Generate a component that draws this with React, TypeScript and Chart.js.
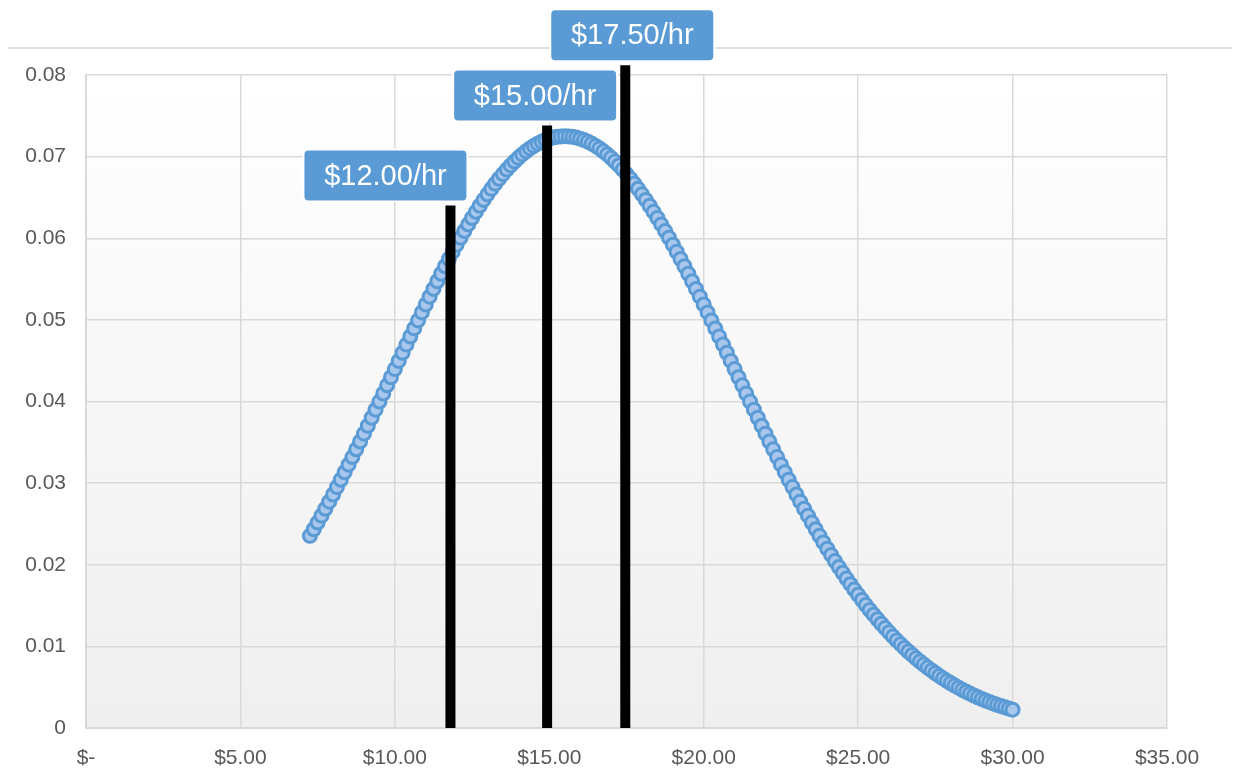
import React, { useEffect, useRef } from "react";
import { Chart, registerables } from "chart.js";

Chart.register(...registerables);

// Hourly wage (x) and density (y)
const wageX: number[] = [
  7.25, 7.375, 7.5, 7.625, 7.75, 7.875, 8.0, 8.125, 8.25, 8.375, 8.5, 8.625, 8.75, 8.875,
  9.0, 9.125, 9.25, 9.375, 9.5, 9.625, 9.75, 9.875, 10.0, 10.125, 10.25, 10.375, 10.5,
  10.625, 10.75, 10.875, 11.0, 11.125, 11.25, 11.375, 11.5, 11.625, 11.75, 11.875, 12.0,
  12.125, 12.25, 12.375, 12.5, 12.625, 12.75, 12.875, 13.0, 13.125, 13.25, 13.375, 13.5,
  13.625, 13.75, 13.875, 14.0, 14.125, 14.25, 14.375, 14.5, 14.625, 14.75, 14.875, 15.0,
  15.125, 15.25, 15.375, 15.5, 15.625, 15.75, 15.875, 16.0, 16.125, 16.25, 16.375, 16.5,
  16.625, 16.75, 16.875, 17.0, 17.125, 17.25, 17.375, 17.5, 17.625, 17.75, 17.875, 18.0,
  18.125, 18.25, 18.375, 18.5, 18.625, 18.75, 18.875, 19.0, 19.125, 19.25, 19.375, 19.5,
  19.625, 19.75, 19.875, 20.0, 20.125, 20.25, 20.375, 20.5, 20.625, 20.75, 20.875, 21.0,
  21.125, 21.25, 21.375, 21.5, 21.625, 21.75, 21.875, 22.0, 22.125, 22.25, 22.375, 22.5,
  22.625, 22.75, 22.875, 23.0, 23.125, 23.25, 23.375, 23.5, 23.625, 23.75, 23.875, 24.0,
  24.125, 24.25, 24.375, 24.5, 24.625, 24.75, 24.875, 25.0, 25.125, 25.25, 25.375, 25.5,
  25.625, 25.75, 25.875, 26.0, 26.125, 26.25, 26.375, 26.5, 26.625, 26.75, 26.875, 27.0,
  27.125, 27.25, 27.375, 27.5, 27.625, 27.75, 27.875, 28.0, 28.125, 28.25, 28.375, 28.5,
  28.625, 28.75, 28.875, 29.0, 29.125, 29.25, 29.375, 29.5, 29.625, 29.75, 29.875, 30.0,
];
const densityY: number[] = [
  0.02354, 0.02435, 0.02517, 0.02601, 0.02686, 0.02773, 0.02861, 0.02951, 0.03041,
  0.03133, 0.03226, 0.03319, 0.03414, 0.0351, 0.03606, 0.03703, 0.03801, 0.039, 0.03999,
  0.04098, 0.04198, 0.04297, 0.04397, 0.04497, 0.04597, 0.04697, 0.04796, 0.04895,
  0.04993, 0.05091, 0.05188, 0.05284, 0.05379, 0.05473, 0.05565, 0.05657, 0.05746,
  0.05835, 0.05921, 0.06006, 0.06089, 0.06169, 0.06248, 0.06324, 0.06398, 0.0647,
  0.06538, 0.06605, 0.06668, 0.06729, 0.06786, 0.06841, 0.06892, 0.0694, 0.06985,
  0.07027, 0.07065, 0.071, 0.07131, 0.07159, 0.07183, 0.07203, 0.0722, 0.07233, 0.07243,
  0.07248, 0.0725, 0.07248, 0.07243, 0.07233, 0.0722, 0.07203, 0.07183, 0.07159, 0.07131,
  0.071, 0.07065, 0.07027, 0.06985, 0.0694, 0.06892, 0.06841, 0.06786, 0.06729, 0.06668,
  0.06605, 0.06538, 0.0647, 0.06398, 0.06324, 0.06248, 0.06169, 0.06089, 0.06006,
  0.05921, 0.05835, 0.05746, 0.05657, 0.05565, 0.05473, 0.05379, 0.05284, 0.05188,
  0.05091, 0.04993, 0.04895, 0.04796, 0.04697, 0.04597, 0.04497, 0.04397, 0.04297,
  0.04198, 0.04098, 0.03999, 0.039, 0.03801, 0.03703, 0.03606, 0.0351, 0.03414, 0.03319,
  0.03226, 0.03133, 0.03041, 0.02951, 0.02861, 0.02773, 0.02686, 0.02601, 0.02517,
  0.02435, 0.02354, 0.02274, 0.02196, 0.0212, 0.02045, 0.01972, 0.01901, 0.01831,
  0.01762, 0.01696, 0.01631, 0.01568, 0.01506, 0.01446, 0.01388, 0.01332, 0.01277,
  0.01224, 0.01172, 0.01122, 0.01073, 0.01027, 0.00981, 0.00937, 0.00895, 0.00854,
  0.00815, 0.00777, 0.0074, 0.00705, 0.00671, 0.00638, 0.00607, 0.00577, 0.00548, 0.0052,
  0.00494, 0.00468, 0.00444, 0.00421, 0.00398, 0.00377, 0.00356, 0.00337, 0.00319,
  0.00301, 0.00284, 0.00268, 0.00253, 0.00238, 0.00224,
];

// Marker lines: wage position, top of line, and label text
const markerWage: number[] = [11.8, 14.93, 17.46];
const markerTop: number[] = [0.064, 0.0738, 0.0812];
const markerLabels: string[] = ["$12.00/hr", "$15.00/hr", "$17.50/hr"];
// label box center offsets from line (px) – styling only
const labelDx: number[] = [-65, -12, 7];

const BLUE = "#5B9BD5";
const GRID = "#d9d9d9";
const TEXT = "#595959";
const FONT = '"Liberation Sans", Arial, sans-serif';

const decorPlugin = {
  id: "decor",
  beforeDraw(chart: any) {
    const { ctx, chartArea } = chart;
    ctx.save();
    const g = ctx.createLinearGradient(0, chartArea.top, 0, chartArea.bottom);
    g.addColorStop(0, "#ffffff");
    g.addColorStop(1, "#efefef");
    ctx.fillStyle = g;
    ctx.fillRect(chartArea.left, chartArea.top, chartArea.right - chartArea.left, chartArea.bottom - chartArea.top);
    // top rule
    ctx.strokeStyle = "#d4d4d4";
    ctx.lineWidth = 1.5;
    ctx.beginPath();
    ctx.moveTo(8, 48);
    ctx.lineTo(1232, 48);
    ctx.stroke();
    ctx.restore();
  },
  afterDraw(chart: any) {
    const { ctx } = chart;
    const xs = chart.scales.x;
    const ys = chart.scales.y;
    ctx.save();
    for (let i = 0; i < markerWage.length; i++) {
      const px = xs.getPixelForValue(markerWage[i]);
      const py = ys.getPixelForValue(markerTop[i]);
      const w = 164;
      const h = 52;
      const cx = px + labelDx[i];
      const bottom = py - 4;
      const left = cx - w / 2;
      const top = bottom - h;
      ctx.beginPath();
      if (ctx.roundRect) ctx.roundRect(left, top, w, h, 5);
      else ctx.rect(left, top, w, h);
      ctx.fillStyle = BLUE;
      ctx.fill();
      ctx.lineWidth = 2;
      ctx.strokeStyle = "#ffffff";
      ctx.stroke();
      ctx.fillStyle = "#ffffff";
      ctx.font = "29px " + FONT;
      ctx.textAlign = "center";
      ctx.textBaseline = "middle";
      ctx.fillText(markerLabels[i], cx, top + h / 2 + 1);
    }
    ctx.restore();
  },
};

export default function App() {
  const ref = useRef<HTMLCanvasElement | null>(null);

  useEffect(() => {
    if (!ref.current) return;
    const curve = wageX.map((x, i) => ({ x, y: densityY[i] }));
    const lineSets = markerWage.map((w, i) => ({
      type: "scatter" as const,
      label: markerLabels[i],
      data: [
        { x: w, y: 0 },
        { x: w, y: markerTop[i] },
      ],
      showLine: true,
      borderColor: "#000000",
      backgroundColor: "#000000",
      borderWidth: 10,
      pointRadius: 0,
      clip: false as any,
      order: 0,
    }));
    const chart = new Chart(ref.current, {
      type: "scatter",
      data: {
        datasets: [
          ...lineSets,
          {
            label: "Density",
            data: curve,
            backgroundColor: "#a9c7ec",
            borderColor: BLUE,
            borderWidth: 3,
            pointRadius: 6.5,
            order: 1,
          },
        ] as any,
      },
      options: {
        animation: false,
        responsive: false,
        maintainAspectRatio: false,
        layout: { padding: { top: 75, right: 66, left: 0, bottom: 0 } },
        plugins: {
          legend: { display: false },
          tooltip: { enabled: false },
        },
        scales: {
          x: {
            type: "linear",
            min: 0,
            max: 35,
            afterFit: (s: any) => {
              s.height = 41;
            },
            grid: { color: GRID, lineWidth: 1.5, drawTicks: false },
            border: { color: GRID, width: 2 },
            ticks: {
              stepSize: 5,
              padding: 18,
              autoSkip: false,
              maxRotation: 0,
              color: TEXT,
              font: { family: FONT, size: 21 },
              callback: (v: any) => (Number(v) === 0 ? "$-" : "$" + Number(v).toFixed(2)),
            },
          },
          y: {
            min: 0,
            max: 0.08,
            afterFit: (s: any) => {
              s.width = 86;
            },
            grid: { color: GRID, lineWidth: 1.5, drawTicks: false },
            border: { color: GRID, width: 2 },
            ticks: {
              stepSize: 0.01,
              padding: 20,
              color: TEXT,
              font: { family: FONT, size: 21 },
              callback: (v: any) => (Number(v) === 0 ? "0" : Number(v).toFixed(2)),
            },
          },
        },
      },
      plugins: [decorPlugin],
    });
    return () => chart.destroy();
  }, []);

  return (
    <div style={{ position: "fixed", left: 0, top: 0, width: 1233, height: 769, background: "#ffffff" }}>
      <canvas ref={ref} width={1233} height={769} style={{ display: "block" }} />
    </div>
  );
}
